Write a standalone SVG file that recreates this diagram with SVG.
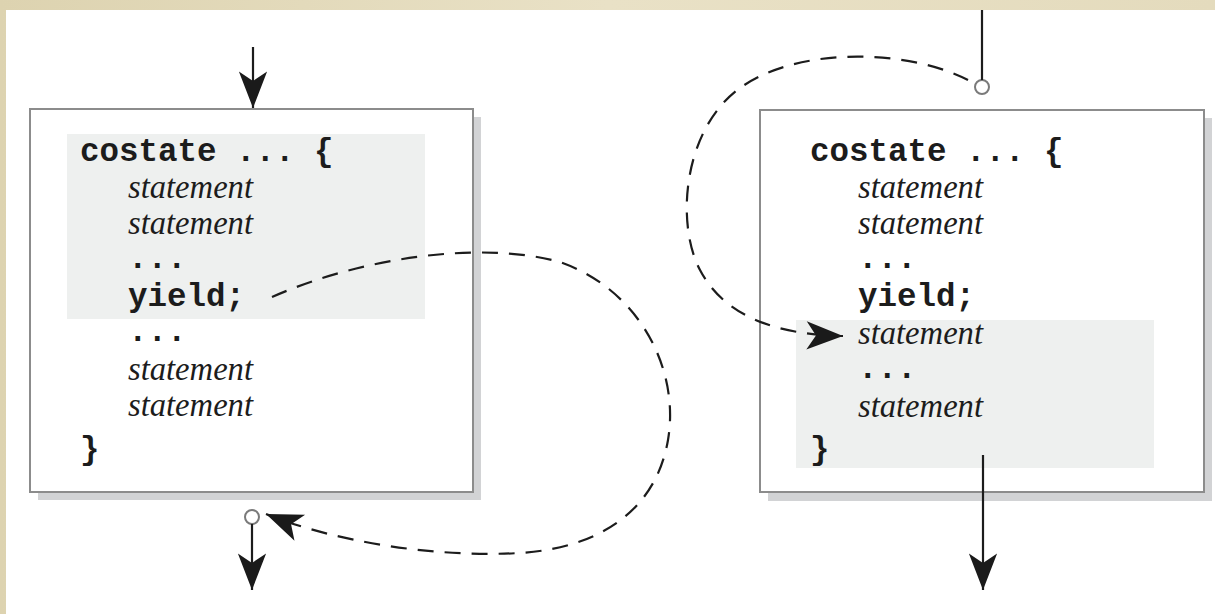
<svg xmlns="http://www.w3.org/2000/svg" width="1215" height="614" viewBox="0 0 1215 614">
  <defs>
    <linearGradient id="paper" x1="0" y1="0" x2="1" y2="0">
      <stop offset="0" stop-color="#ddd3b0"/>
      <stop offset="0.5" stop-color="#e9e1c6"/>
      <stop offset="1" stop-color="#e4dbbd"/>
    </linearGradient>
    <marker id="stealth" markerUnits="userSpaceOnUse" markerWidth="40" markerHeight="40" viewBox="-32 -14 34 28" refX="0" refY="0" orient="auto">
      <path d="M0,0 L-31,-12 L-23,0 L-31,12 Z" fill="#1a1a1a"/>
    </marker>
    <style>
      .frame { fill: #ffffff; stroke: #8c8c8c; stroke-width: 2; }
      .shadow { fill: #d2d3d5; }
      .hl { fill: #eef0ef; }
      .code { font-family: "Liberation Mono", "Courier New", monospace; font-weight: bold; font-size: 32.5px; fill: #1c1c1c; }
      .stmt { font-family: "Liberation Serif", "Times New Roman", serif; font-style: italic; font-size: 33px; fill: #1c1c1c; }
      .flow { stroke: #1c1c1c; stroke-width: 2.2; fill: none; }
      .jump { stroke: #1c1c1c; stroke-width: 2.2; fill: none; stroke-dasharray: 16 11; }
      .port { fill: #ffffff; stroke: #7a7a7a; stroke-width: 2; }
    </style>
  </defs>

  <!-- page -->
  <rect x="0" y="0" width="1215" height="614" fill="url(#paper)"/>
  <rect x="6" y="10" width="1209" height="604" fill="#ffffff"/>

  <!-- first costate: runs until yield -->
  <g id="costate-a">
    <rect class="shadow" x="38" y="117" width="443" height="383"/>
    <rect class="frame" x="30" y="109" width="443" height="383"/>
    <rect class="hl" x="67" y="134" width="358" height="185"/>
    <text class="code" x="80" y="161">costate ... {</text>
    <text class="stmt" x="128" y="198" textLength="125" lengthAdjust="spacingAndGlyphs">statement</text>
    <text class="stmt" x="128" y="234" textLength="125" lengthAdjust="spacingAndGlyphs">statement</text>
    <text class="code" x="128" y="268">...</text>
    <text class="code" x="128" y="306">yield;</text>
    <text class="code" x="128" y="341">...</text>
    <text class="stmt" x="128" y="380" textLength="125" lengthAdjust="spacingAndGlyphs">statement</text>
    <text class="stmt" x="128" y="416" textLength="125" lengthAdjust="spacingAndGlyphs">statement</text>
    <text class="code" x="80" y="459">}</text>
  </g>

  <!-- second costate: resumes after yield -->
  <g id="costate-b">
    <rect class="shadow" x="768" y="118" width="444" height="383"/>
    <rect class="frame" x="760" y="110" width="444" height="382"/>
    <rect class="hl" x="796" y="320" width="358" height="148"/>
    <text class="code" x="810" y="161">costate ... {</text>
    <text class="stmt" x="858" y="198" textLength="125" lengthAdjust="spacingAndGlyphs">statement</text>
    <text class="stmt" x="858" y="234" textLength="125" lengthAdjust="spacingAndGlyphs">statement</text>
    <text class="code" x="858" y="268">...</text>
    <text class="code" x="858" y="306">yield;</text>
    <text class="stmt" x="858" y="344" textLength="125" lengthAdjust="spacingAndGlyphs">statement</text>
    <text class="code" x="858" y="378">...</text>
    <text class="stmt" x="858" y="417" textLength="125" lengthAdjust="spacingAndGlyphs">statement</text>
    <text class="code" x="810" y="459">}</text>
  </g>

  <!-- entry / exit ports -->
  <g id="port-a-exit">
    <circle class="port" cx="252" cy="517" r="7"/>
  </g>
  <g id="port-b-entry">
    <circle class="port" cx="982" cy="87" r="7"/>
  </g>

  <!-- connectors -->
  <g id="connectors">
    <line class="flow" x1="253" y1="47" x2="253" y2="108" marker-end="url(#stealth)"/>
    <line class="flow" x1="252" y1="524" x2="252" y2="590" marker-end="url(#stealth)"/>
    <line class="flow" x1="982" y1="10" x2="982" y2="80"/>
    <line class="flow" x1="983" y1="455" x2="983" y2="590" marker-end="url(#stealth)"/>
    <path class="jump" d="M272,297 C360,258 480,240 560,262 C640,290 680,370 668,440 C656,510 600,548 520,553 C430,558 330,540 266,514" marker-end="url(#stealth)"/>
    <path class="jump" d="M968,80 C910,50 800,45 740,88 C682,130 676,225 700,270 C725,318 780,335 843,336" marker-end="url(#stealth)"/>
  </g>
</svg>
